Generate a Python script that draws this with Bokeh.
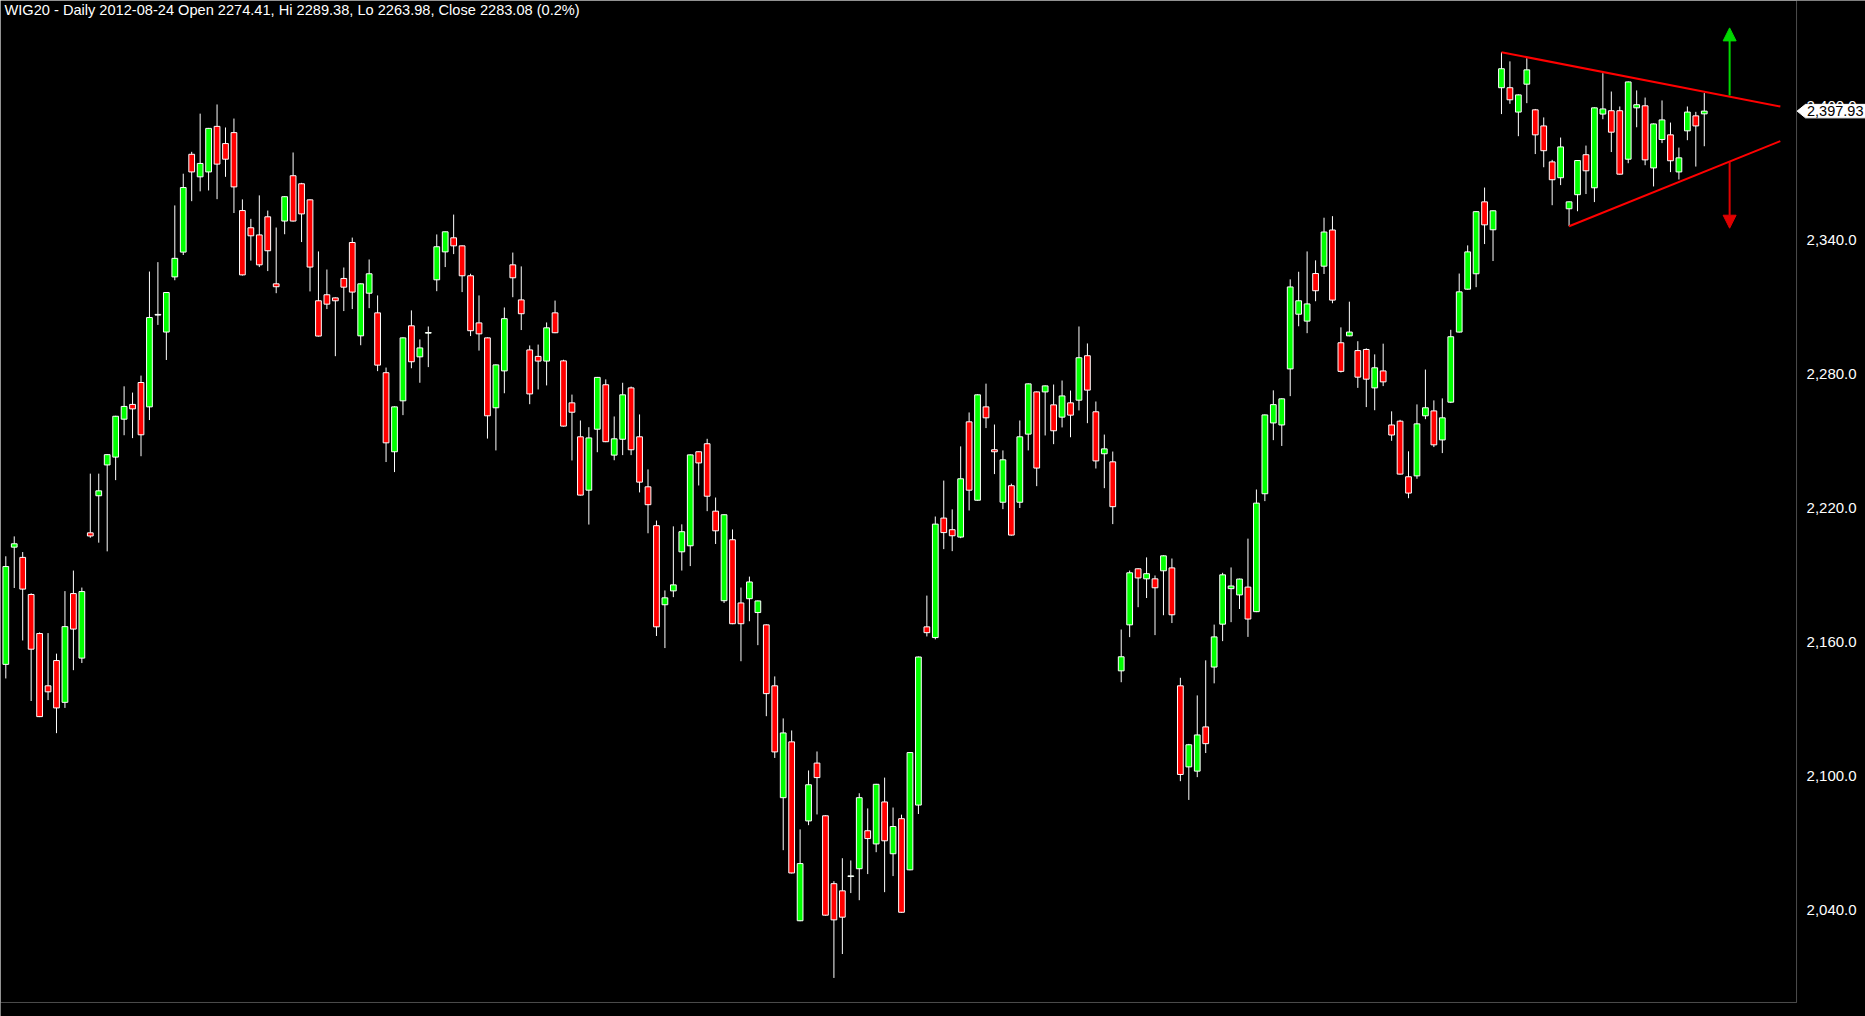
from bokeh.plotting import figure
from bokeh.models import (ColumnDataSource, FixedTicker, NumeralTickFormatter, Label,
                          Arrow, NormalHead, BoxAnnotation, Range1d)
from bokeh.core.properties import value
from bokeh.embed import file_html
from bokeh.resources import INLINE

title_text = "WIG20 - Daily 2012-08-24 Open 2274.41, Hi 2289.38, Lo 2263.98, Close 2283.08 (0.2%)"

opens = [
    2150.2, 2202.7, 2198.1, 2181.5, 2164.0, 2140.6, 2151.9, 2133.2, 2181.9, 2153.0,
    2209.1, 2225.7, 2239.5, 2243.0, 2260.0, 2266.6, 2276.4, 2265.5, 2306.6, 2299.0,
    2323.7, 2334.8, 2378.6, 2368.5, 2370.7, 2391.1, 2383.4, 2388.3, 2353.4, 2345.7,
    2342.5, 2350.6, 2320.6, 2348.7, 2369.0, 2365.4, 2358.2, 2313.0, 2315.7, 2314.3,
    2323.0, 2339.1, 2297.3, 2316.4, 2307.6, 2280.8, 2245.4, 2268.2, 2301.8, 2287.9,
    2298.5, 2322.4, 2334.9, 2341.2, 2337.6, 2324.2, 2303.1, 2296.4, 2265.1, 2281.6,
    2329.1, 2313.4, 2291.0, 2288.1, 2286.0, 2307.6, 2286.1, 2267.3, 2252.1, 2228.2,
    2255.5, 2275.4, 2243.9, 2251.0, 2274.0, 2252.1, 2229.7, 2212.3, 2176.9, 2183.1,
    2200.6, 2203.3, 2245.4, 2249.0, 2218.8, 2178.7, 2206.0, 2177.7, 2179.6, 2173.4,
    2167.9, 2140.6, 2090.5, 2115.5, 2035.4, 2080.1, 2106.0, 2082.4, 2052.0, 2048.8,
    2055.2, 2058.7, 2075.7, 2069.8, 2088.6, 2065.4, 2081.1, 2058.2, 2087.2, 2167.0,
    2162.2, 2215.7, 2210.5, 2207.2, 2258.8, 2223.7, 2265.5, 2246.3, 2222.8, 2230.2,
    2222.8, 2253.3, 2272.2, 2272.2, 2266.4, 2260.9, 2267.3, 2268.5, 2288.4, 2263.3,
    2244.5, 2240.9, 2147.3, 2167.9, 2193.0, 2188.5, 2188.5, 2192.1, 2193.4, 2140.6,
    2104.3, 2102.4, 2122.2, 2149.0, 2168.2, 2184.1, 2181.3, 2184.8, 2173.8, 2226.6,
    2258.3, 2257.4, 2282.5, 2307.0, 2303.9, 2325.2, 2328.5, 2344.7, 2294.2, 2297.3,
    2290.7, 2291.2, 2274.0, 2281.6, 2257.4, 2259.1, 2234.2, 2234.6, 2261.5, 2263.7,
    2250.7, 2267.6, 2299.0, 2318.2, 2325.1, 2357.3, 2344.8, 2408.4, 2408.4, 2397.5,
    2410.0, 2398.5, 2391.3, 2375.2, 2368.1, 2354.2, 2360.5, 2378.4, 2363.6, 2396.6,
    2398.1, 2398.1, 2376.4, 2399.4, 2400.3, 2372.5, 2385.2, 2387.3, 2370.7, 2389.1,
    2395.8, 2396.7,
]

highs = [
    2198.6, 2207.5, 2200.5, 2182.0, 2164.5, 2164.2, 2155.0, 2183.0, 2192.2, 2184.6,
    2235.6, 2235.6, 2244.3, 2261.5, 2274.7, 2271.9, 2279.5, 2326.1, 2330.3, 2316.9,
    2355.7, 2369.9, 2379.7, 2396.8, 2390.4, 2400.9, 2390.6, 2394.6, 2358.4, 2349.7,
    2360.2, 2353.4, 2345.8, 2359.8, 2379.4, 2365.8, 2358.4, 2335.1, 2327.0, 2314.5,
    2327.9, 2341.3, 2320.8, 2331.5, 2315.4, 2283.1, 2265.7, 2296.6, 2308.7, 2295.7,
    2301.5, 2342.7, 2344.0, 2351.6, 2337.8, 2325.1, 2315.4, 2296.6, 2284.5, 2310.0,
    2334.6, 2328.4, 2293.0, 2293.4, 2303.3, 2313.1, 2286.6, 2271.0, 2259.4, 2256.4,
    2278.9, 2277.8, 2261.2, 2276.3, 2274.6, 2262.1, 2237.5, 2214.6, 2183.3, 2212.0,
    2212.9, 2244.2, 2245.5, 2251.2, 2224.9, 2217.4, 2210.6, 2184.6, 2189.5, 2178.8,
    2168.1, 2144.8, 2126.0, 2120.6, 2076.3, 2102.7, 2111.2, 2082.6, 2053.1, 2063.4,
    2062.4, 2092.5, 2085.7, 2096.7, 2099.5, 2086.1, 2082.9, 2110.9, 2153.7, 2181.0,
    2216.4, 2232.5, 2219.6, 2247.8, 2263.0, 2271.1, 2275.9, 2257.6, 2246.0, 2231.1,
    2259.4, 2276.0, 2272.4, 2275.1, 2275.5, 2277.3, 2272.8, 2301.5, 2293.9, 2267.9,
    2253.1, 2245.5, 2165.8, 2192.2, 2193.2, 2198.1, 2190.0, 2199.0, 2197.6, 2144.2,
    2114.6, 2136.3, 2152.0, 2168.0, 2191.2, 2193.6, 2188.6, 2206.5, 2228.5, 2262.1,
    2272.9, 2269.3, 2322.6, 2326.0, 2335.1, 2331.1, 2350.2, 2350.9, 2301.1, 2312.6,
    2294.9, 2291.7, 2289.0, 2293.8, 2263.5, 2259.7, 2245.6, 2266.6, 2282.2, 2268.4,
    2269.3, 2300.0, 2325.2, 2337.8, 2353.1, 2363.7, 2353.5, 2424.3, 2420.2, 2405.4,
    2421.6, 2398.9, 2395.1, 2376.1, 2386.1, 2357.5, 2376.0, 2382.5, 2399.6, 2414.9,
    2406.7, 2400.0, 2411.2, 2407.2, 2404.0, 2392.4, 2402.7, 2392.8, 2381.6, 2400.0,
    2397.6, 2406.0,
]

lows = [
    2143.9, 2184.4, 2160.9, 2133.8, 2126.6, 2134.2, 2119.4, 2130.7, 2147.6, 2150.8,
    2206.9, 2204.7, 2200.8, 2232.7, 2252.8, 2251.5, 2243.4, 2259.6, 2302.2, 2286.5,
    2322.2, 2333.5, 2357.6, 2362.0, 2362.4, 2358.5, 2368.5, 2352.3, 2324.3, 2331.0,
    2328.1, 2326.3, 2316.4, 2342.8, 2348.5, 2339.3, 2317.2, 2297.0, 2309.3, 2288.2,
    2308.4, 2309.3, 2293.1, 2309.7, 2281.5, 2240.8, 2236.3, 2261.8, 2282.8, 2276.3,
    2283.3, 2317.3, 2328.1, 2333.9, 2316.9, 2297.2, 2290.7, 2251.3, 2246.0, 2271.6,
    2314.6, 2299.9, 2266.7, 2273.3, 2275.1, 2298.5, 2256.7, 2241.5, 2225.8, 2212.8,
    2245.2, 2249.7, 2241.6, 2243.9, 2243.9, 2227.2, 2208.9, 2162.9, 2157.5, 2180.3,
    2192.2, 2194.2, 2230.3, 2218.8, 2204.1, 2177.7, 2168.2, 2151.6, 2169.5, 2158.8,
    2127.0, 2108.3, 2067.0, 2056.6, 2035.2, 2078.2, 2083.0, 2037.7, 2009.8, 2020.5,
    2047.8, 2044.6, 2056.3, 2066.1, 2048.2, 2055.4, 2039.0, 2058.0, 2083.2, 2162.7,
    2161.4, 2201.8, 2200.9, 2206.7, 2219.1, 2223.5, 2256.0, 2235.4, 2219.7, 2207.9,
    2220.2, 2246.0, 2230.0, 2252.7, 2248.8, 2256.3, 2251.9, 2263.9, 2258.2, 2237.9,
    2229.1, 2213.0, 2142.2, 2162.4, 2175.8, 2179.9, 2163.3, 2172.2, 2168.7, 2097.9,
    2089.5, 2099.7, 2110.5, 2141.7, 2160.6, 2169.1, 2175.0, 2162.5, 2173.6, 2223.3,
    2250.6, 2248.0, 2270.3, 2301.6, 2298.5, 2312.8, 2325.0, 2311.9, 2280.9, 2297.1,
    2274.0, 2265.4, 2264.0, 2274.8, 2250.3, 2235.2, 2224.6, 2233.3, 2260.0, 2247.5,
    2244.8, 2267.2, 2298.8, 2318.0, 2319.1, 2338.4, 2330.8, 2396.6, 2401.2, 2386.7,
    2401.5, 2378.7, 2372.8, 2355.8, 2364.8, 2346.4, 2353.1, 2360.8, 2357.2, 2394.3,
    2379.6, 2369.5, 2374.6, 2390.7, 2373.7, 2364.2, 2383.6, 2370.6, 2367.3, 2384.9,
    2373.1, 2382.2,
]

closes = [
    2194.0, 2204.2, 2183.9, 2157.0, 2126.8, 2137.9, 2130.7, 2167.1, 2166.0, 2182.8,
    2207.7, 2227.9, 2244.1, 2261.3, 2265.7, 2264.6, 2253.0, 2305.5, 2306.9, 2316.7,
    2332.0, 2363.7, 2370.7, 2374.5, 2390.2, 2374.2, 2376.4, 2364.0, 2324.6, 2342.1,
    2329.1, 2335.4, 2319.3, 2359.6, 2348.7, 2351.9, 2328.1, 2297.2, 2311.5, 2313.0,
    2319.1, 2316.9, 2320.6, 2325.1, 2284.2, 2249.4, 2265.5, 2296.4, 2285.7, 2291.9,
    2298.8, 2337.2, 2343.9, 2337.6, 2324.2, 2299.6, 2298.2, 2261.5, 2284.3, 2305.0,
    2323.3, 2307.2, 2271.3, 2286.0, 2300.9, 2298.7, 2256.9, 2263.1, 2226.0, 2251.6,
    2278.7, 2249.9, 2251.2, 2270.9, 2246.3, 2231.8, 2221.7, 2167.0, 2180.0, 2185.8,
    2209.6, 2244.0, 2240.4, 2225.5, 2210.0, 2217.2, 2168.4, 2168.4, 2187.1, 2178.6,
    2137.1, 2111.0, 2119.5, 2056.8, 2061.0, 2096.3, 2099.5, 2037.9, 2035.8, 2037.0,
    2055.5, 2090.5, 2072.2, 2096.5, 2071.2, 2077.6, 2039.2, 2110.7, 2153.5, 2164.4,
    2213.0, 2209.2, 2207.8, 2233.3, 2228.2, 2270.9, 2260.6, 2245.4, 2241.8, 2208.1,
    2252.1, 2275.8, 2238.1, 2274.9, 2254.8, 2270.4, 2261.8, 2287.5, 2273.0, 2241.3,
    2246.7, 2220.8, 2153.6, 2191.2, 2188.9, 2190.8, 2184.5, 2198.8, 2172.4, 2100.9,
    2114.2, 2118.6, 2114.7, 2162.5, 2190.3, 2185.3, 2188.4, 2170.5, 2222.4, 2261.9,
    2266.5, 2269.1, 2319.2, 2313.0, 2311.6, 2317.5, 2343.8, 2313.3, 2281.4, 2299.0,
    2278.8, 2277.9, 2283.0, 2276.7, 2252.9, 2235.4, 2226.9, 2257.9, 2265.1, 2248.5,
    2260.6, 2296.9, 2317.0, 2334.9, 2352.9, 2347.0, 2353.3, 2416.9, 2403.0, 2405.2,
    2416.4, 2387.3, 2380.2, 2367.2, 2381.9, 2357.3, 2375.8, 2371.2, 2399.4, 2398.9,
    2388.5, 2369.7, 2411.0, 2400.8, 2376.1, 2392.2, 2394.0, 2375.7, 2377.0, 2397.5,
    2391.3, 2397.93,
]

y_ticks = [2040, 2100, 2160, 2220, 2280, 2340, 2400]

# triangle pattern drawn on the chart (candle index / price)
upper_x = [177, 210.0]
upper_y = [2424.3, 2400.0]
lower_x = [185, 210.0]
lower_y = [2346.4, 2384.5]
arrow_x = 204
arrow_up_y = [2404.9, 2435.2]
arrow_down_y = [2375.4, 2345.5]

UP = "#00ff00"
DOWN = "#ff0000"

idx = list(range(len(closes)))
colors = [UP if c > o else DOWN for o, c in zip(opens, closes)]
tops = [max(o, c) for o, c in zip(opens, closes)]
bottoms = [min(o, c) for o, c in zip(opens, closes)]

src = ColumnDataSource(dict(x=idx, o=opens, h=highs, l=lows, c=closes,
                            top=tops, bottom=bottoms, color=colors))

# view window (candle index / price)
X0, X1 = -0.627, 220.08
Y0, Y1 = 1992.53, 2447.46
X_BORDER = 211.92      # right edge of the price pane
Y_BORDER = 1998.81     # bottom edge of the price pane

p = figure(width=1865, height=1016,
           x_range=Range1d(X0, X1), y_range=Range1d(Y0, Y1),
           output_backend="svg", toolbar_location=None,
           x_axis_location=None, y_axis_location="right",
           background_fill_color="black", border_fill_color="black",
           min_border_left=0, min_border_right=0, min_border_top=0, min_border_bottom=0)
p.outline_line_color = None
p.grid.visible = False

ax = p.yaxis[0]
ax.fixed_location = X_BORDER
ax.ticker = FixedTicker(ticks=y_ticks)
ax.formatter = NumeralTickFormatter(format="0,0.0")
ax.axis_line_color = None
ax.major_tick_line_color = None
ax.minor_tick_line_color = None
ax.major_tick_out = 0
ax.major_tick_in = 0
ax.major_label_standoff = 10
ax.major_label_text_color = "white"
ax.major_label_text_font = "Liberation Sans"
ax.major_label_text_font_size = "15px"

# pane frame
p.add_layout(BoxAnnotation(left=X0, right=X_BORDER, bottom=Y_BORDER, top=Y1,
                           fill_color=None, fill_alpha=0, line_color="white", line_width=1))

p.segment(x0="x", y0="h", x1="x", y1="l", source=src, line_color="white", line_width=1)
p.vbar(x="x", width=0.68, top="top", bottom="bottom", source=src,
       fill_color="color", line_color="white", line_width=1)

p.line(upper_x, upper_y, line_color="#ff0000", line_width=2)
p.line(lower_x, lower_y, line_color="#ff0000", line_width=2)

p.add_layout(Arrow(end=NormalHead(size=13, fill_color="#00d800", line_color="#00d800"),
                   x_start=arrow_x, y_start=arrow_up_y[0], x_end=arrow_x, y_end=arrow_up_y[1],
                   line_color="#00d800", line_width=2))
p.add_layout(Arrow(end=NormalHead(size=13, fill_color="#e00000", line_color="#e00000"),
                   x_start=arrow_x, y_start=arrow_down_y[0], x_end=arrow_x, y_end=arrow_down_y[1],
                   line_color="#e00000", line_width=2))

p.add_layout(Label(x=-0.154, y=2447.0, text=title_text, text_align="left", text_baseline="top",
                   text_color="white", text_font="Liberation Sans", text_font_size="14.6px"))

# last-price tag on the price scale
last_close = closes[-1]
tag_half = 3.02
tag_left = 212.98
p.patch([X_BORDER + 0.07, tag_left, X1, X1, tag_left],
        [last_close, last_close + tag_half, last_close + tag_half, last_close - tag_half, last_close - tag_half],
        fill_color="white", line_color="white", line_width=1, level="overlay")
p.text(x=[tag_left + 0.18], y=[last_close], text=[f"{last_close:,.2f}"],
       text_color="black", text_font=value("Liberation Sans"), text_font_size="14.5px",
       text_align="left", text_baseline="middle", level="overlay")

open("out.html", "w").write(file_html(p, INLINE, title="WIG20"))
